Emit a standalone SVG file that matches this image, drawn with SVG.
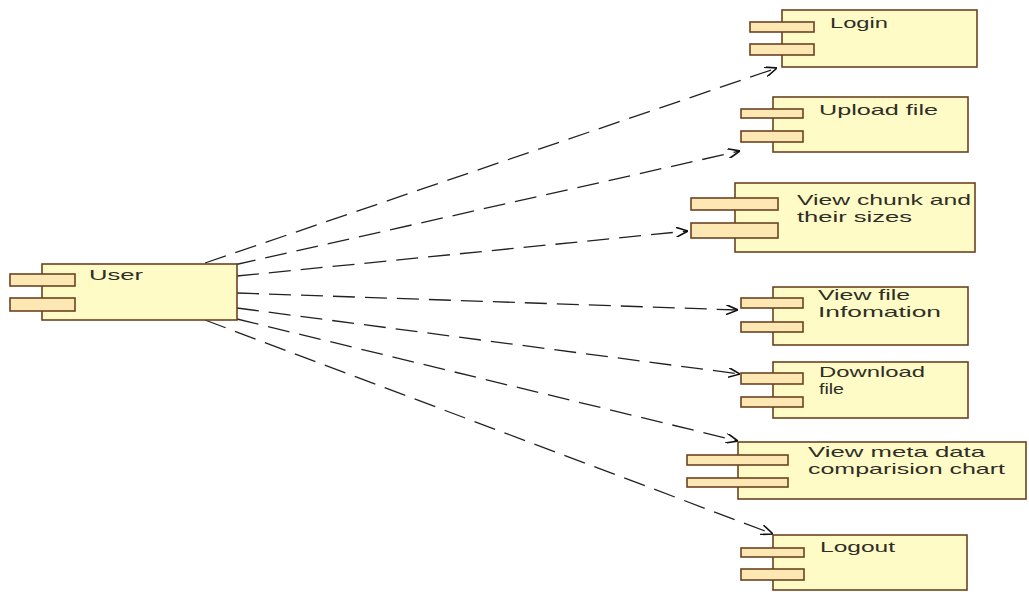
<svg xmlns="http://www.w3.org/2000/svg" width="1029" height="592" viewBox="0 0 1029 592">
  <style>
    .body { fill: #fffbc6; stroke: #6b4322; stroke-width: 1.6; }
    .tab { fill: #fde7b2; stroke: #6b4322; stroke-width: 1.6; }
    .label { font-family: "Liberation Sans", Arial, sans-serif; font-size: 15px; fill: #2e2e28; }
    .dep { fill: none; stroke: #222; stroke-width: 1.3; stroke-dasharray: 22 10; marker-end: url(#open); }
  </style>
  <defs>
    <marker id="open" viewBox="0 0 12 10" refX="12" refY="5" markerWidth="12" markerHeight="10" markerUnits="userSpaceOnUse" orient="auto">
      <path d="M0,0 L12,5 L0,10" fill="none" stroke="#111" stroke-width="1.6"/>
    </marker>
  </defs>
  <rect width="1029" height="592" fill="#ffffff"/>

  <g id="connectors">
    <path class="dep" d="M205,263 L777,68"/>
    <path class="dep" d="M234,265 L740,151"/>
    <path class="dep" d="M237,276 L688,231"/>
    <path class="dep" d="M237,293 L738,310"/>
    <path class="dep" d="M237,308 L740,374"/>
    <path class="dep" d="M237,319 L738,441"/>
    <path class="dep" d="M205,320 L773,534"/>
  </g>

  <g id="user">
    <rect class="body" x="42" y="264" width="195" height="56"/>
    <rect class="tab" x="10" y="274" width="65" height="12"/>
    <rect class="tab" x="10" y="298" width="65" height="13"/>
    <text class="label" x="89" y="280" textLength="54" lengthAdjust="spacingAndGlyphs">User</text>
  </g>

  <g id="login">
    <rect class="body" x="782" y="10" width="195" height="57"/>
    <rect class="tab" x="750" y="22" width="64" height="10"/>
    <rect class="tab" x="750" y="44" width="64" height="11"/>
    <text class="label" x="830" y="28" textLength="58" lengthAdjust="spacingAndGlyphs">Login</text>
  </g>

  <g id="upload-file">
    <rect class="body" x="773" y="97" width="195" height="55"/>
    <rect class="tab" x="741" y="109" width="62" height="9"/>
    <rect class="tab" x="741" y="131" width="62" height="11"/>
    <text class="label" x="819" y="115" textLength="119" lengthAdjust="spacingAndGlyphs">Upload file</text>
  </g>

  <g id="view-chunk">
    <rect class="body" x="735" y="183" width="240" height="69"/>
    <rect class="tab" x="691" y="198" width="87" height="12"/>
    <rect class="tab" x="691" y="223" width="87" height="15"/>
    <text class="label" x="797" y="205" textLength="174" lengthAdjust="spacingAndGlyphs">View chunk and</text>
    <text class="label" x="797" y="222" textLength="115" lengthAdjust="spacingAndGlyphs">their sizes</text>
  </g>

  <g id="view-file-info">
    <rect class="body" x="773" y="287" width="195" height="58"/>
    <rect class="tab" x="741" y="298" width="62" height="10"/>
    <rect class="tab" x="741" y="322" width="62" height="10"/>
    <text class="label" x="818" y="300" textLength="92" lengthAdjust="spacingAndGlyphs">View file</text>
    <text class="label" x="818" y="317" textLength="123" lengthAdjust="spacingAndGlyphs">Infomation</text>
  </g>

  <g id="download-file">
    <rect class="body" x="773" y="362" width="195" height="56"/>
    <rect class="tab" x="741" y="373" width="62" height="11"/>
    <rect class="tab" x="741" y="397" width="62" height="10"/>
    <text class="label" x="819" y="377" textLength="106" lengthAdjust="spacingAndGlyphs">Download</text>
    <text class="label" x="819" y="394" textLength="25" lengthAdjust="spacingAndGlyphs">file</text>
  </g>

  <g id="view-meta-data">
    <rect class="body" x="738" y="442" width="288" height="57"/>
    <rect class="tab" x="687" y="455" width="101" height="10"/>
    <rect class="tab" x="687" y="478" width="101" height="9"/>
    <text class="label" x="808" y="457" textLength="177" lengthAdjust="spacingAndGlyphs">View meta data</text>
    <text class="label" x="808" y="474" textLength="197" lengthAdjust="spacingAndGlyphs">comparision chart</text>
  </g>

  <g id="logout">
    <rect class="body" x="773" y="535" width="194" height="55"/>
    <rect class="tab" x="741" y="548" width="63" height="9"/>
    <rect class="tab" x="741" y="569" width="63" height="11"/>
    <text class="label" x="820" y="552" textLength="75" lengthAdjust="spacingAndGlyphs">Logout</text>
  </g>
</svg>
